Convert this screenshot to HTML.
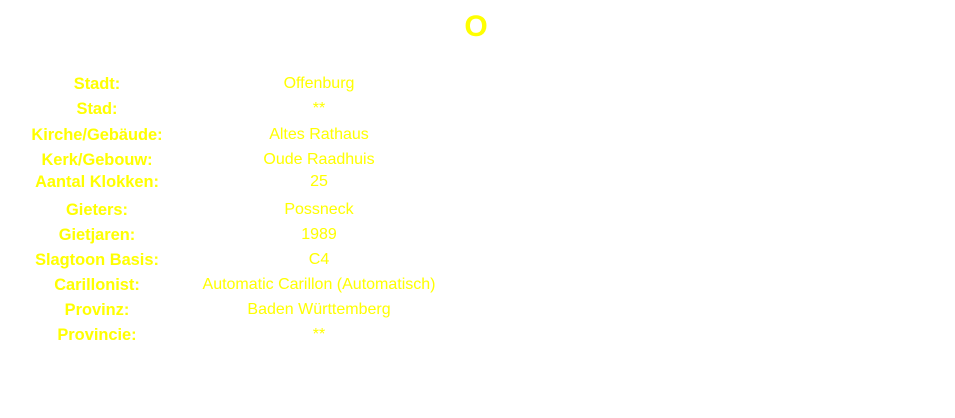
<!DOCTYPE html>
<html><head><style>
body{margin:0;width:955px;height:418px;background:#fff;position:relative;overflow:hidden;font-family:"Liberation Sans",sans-serif;color:#ffff00}
.t{position:absolute;left:476px;top:10px;transform:translateX(-50%);font-size:30px;font-weight:bold;line-height:34px}
.l,.v{position:absolute;font-size:16px;line-height:18px;white-space:nowrap;transform:translate(-50%,-50%);margin-top:1px}
.l{left:97px;font-weight:bold;font-size:16.4px}
.v{left:319px}
</style></head><body>
<div class="t">O</div>
<div class="l" style="top:83px">Stadt:</div><div class="v" style="top:83px">Offenburg</div>
<div class="l" style="top:108px">Stad:</div><div class="v" style="top:108px">**</div>
<div class="l" style="top:134px">Kirche/Gebäude:</div><div class="v" style="top:134px">Altes Rathaus</div>
<div class="l" style="top:159px">Kerk/Gebouw:</div><div class="v" style="top:159px">Oude Raadhuis</div>
<div class="l" style="top:181px">Aantal Klokken:</div><div class="v" style="top:181px">25</div>
<div class="l" style="top:209px">Gieters:</div><div class="v" style="top:209px">Possneck</div>
<div class="l" style="top:234px">Gietjaren:</div><div class="v" style="top:234px">1989</div>
<div class="l" style="top:259px">Slagtoon Basis:</div><div class="v" style="top:259px">C4</div>
<div class="l" style="top:284px">Carillonist:</div><div class="v" style="top:284px">Automatic Carillon (Automatisch)</div>
<div class="l" style="top:309px">Provinz:</div><div class="v" style="top:309px">Baden Württemberg</div>
<div class="l" style="top:334px">Provincie:</div><div class="v" style="top:334px">**</div>
</body></html>
